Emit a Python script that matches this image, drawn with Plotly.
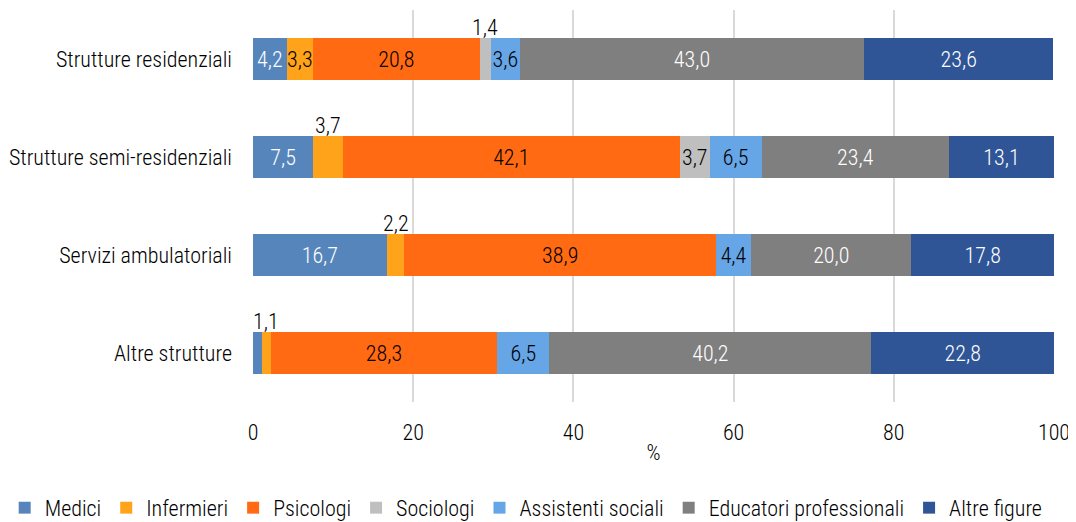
import plotly.graph_objects as go

strutture = ["Strutture residenziali", "Strutture semi-residenziali",
             "Servizi ambulatoriali", "Altre strutture"]

figure = ["Medici", "Infermieri", "Psicologi", "Sociologi",
          "Assistenti sociali", "Educatori professionali", "Altre figure"]

medici = [4.2, 7.5, 16.7, 1.1]
infermieri = [3.3, 3.7, 2.2, 1.1]
psicologi = [20.8, 42.1, 38.9, 28.3]
sociologi = [1.4, 3.7, 0.0, 0.0]
assistenti = [3.6, 6.5, 4.4, 6.5]
educatori = [43.0, 23.4, 20.0, 40.2]
altre = [23.6, 13.1, 17.8, 22.8]

valori = [medici, infermieri, psicologi, sociologi, assistenti, educatori, altre]
colori = ["#5585BA", "#FFA31A", "#FF6A13", "#BFBFBF", "#66A5E6", "#7F7F7F", "#2F5597"]
colore_testo = ["white", "black", "black", "black", "black", "white", "white"]

# etichette mostrate sopra la barra (struttura, figura)
fuori = [(0, 3), (1, 1), (2, 1), (3, 1)]
nascoste = [(3, 0)]

FONT = "Liberation Sans Narrow, Arial Narrow, Roboto Condensed, Liberation Sans, sans-serif"
SIZE = 22
PESO = 300

fig = go.Figure()
for j, nome in enumerate(figure):
    testi = []
    for i, v in enumerate(valori[j]):
        if v == 0 or (i, j) in fuori or (i, j) in nascoste:
            testi.append("")
        else:
            testi.append(f"{v:.1f}".replace(".", ","))
    fig.add_trace(go.Bar(
        y=strutture, x=valori[j], name=nome, orientation="h",
        marker=dict(color=colori[j], line=dict(width=0)),
        text=testi, textposition="inside", insidetextanchor="middle",
        textangle=0, constraintext="none",
        insidetextfont=dict(color=colore_testo[j], size=SIZE, family=FONT, weight=PESO),
        hoverinfo="x+name",
    ))

for i, j in fuori:
    base = sum(valori[k][i] for k in range(j))
    centro = base + valori[j][i] / 2
    fig.add_annotation(x=centro, y=strutture[i], text=f"{valori[j][i]:.1f}".replace(".", ","),
                       showarrow=False, yshift=32,
                       font=dict(size=SIZE, color="black", family=FONT, weight=PESO))

# la pagina ha un margine di 8 px: la figura parte da (8, 8)
fig.update_layout(
    barmode="stack", bargap=0.57,
    width=1068, height=514,
    margin=dict(l=245, r=22, t=2, b=120, autoexpand=False),
    plot_bgcolor="white", paper_bgcolor="white",
    font=dict(family=FONT, size=SIZE, color="#000000", weight=PESO),
    legend=dict(orientation="h", x=-0.31, xanchor="left", y=-0.27, yanchor="middle",
                font=dict(size=SIZE, weight=PESO), traceorder="normal", itemwidth=30,
                tracegroupgap=0),
)
fig.update_xaxes(range=[0, 100], dtick=20, showgrid=True, gridcolor="#D9D9D9", gridwidth=2,
                 zeroline=False, showline=False, ticks="", automargin=False,
                 ticklabelstandoff=15,
                 title=dict(text="%", standoff=0, font=dict(size=SIZE, weight=PESO)),
                 tickfont=dict(size=SIZE, weight=PESO))
fig.update_yaxes(autorange="reversed", showgrid=False, ticks="", automargin=False,
                 ticklabelstandoff=20, tickfont=dict(size=SIZE, weight=PESO))

fig.write_html("out.html")
